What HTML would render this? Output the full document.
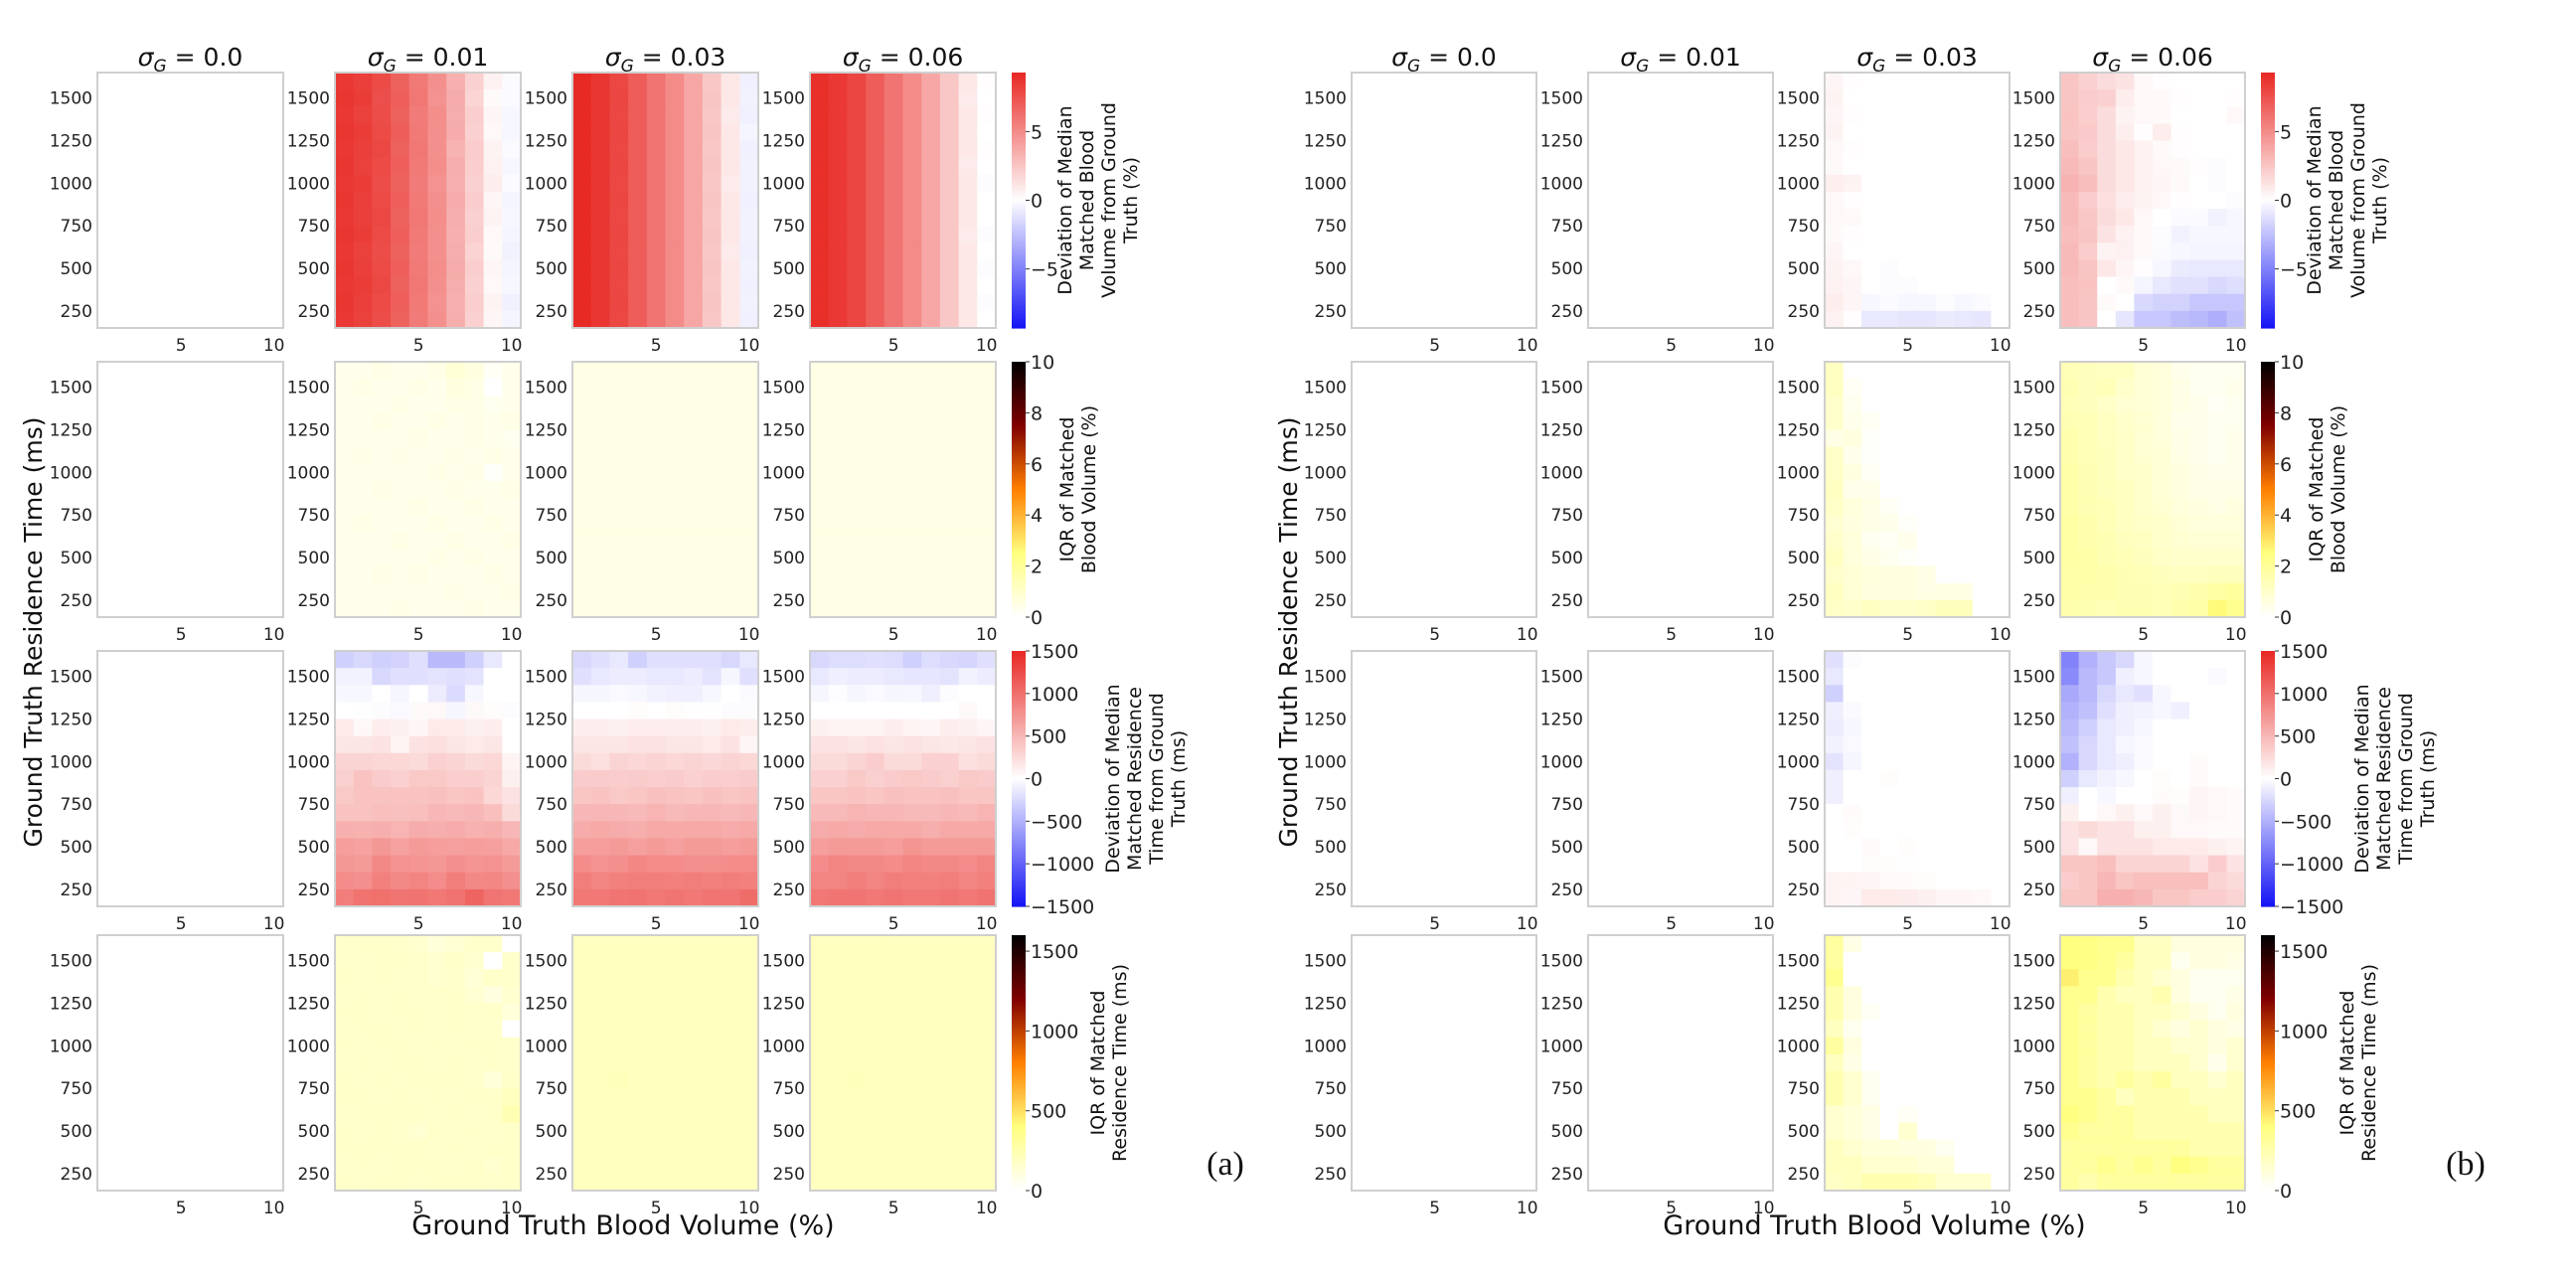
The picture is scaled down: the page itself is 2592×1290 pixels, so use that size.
<!DOCTYPE html>
<html><head><meta charset="utf-8"><title>Heatmaps</title>
<style>
html,body{margin:0;padding:0;background:#fff;}
svg{display:block;font-family:"DejaVu Sans","Liberation Sans",sans-serif;}
</style></head>
<body>
<svg id="fig" width="2592" height="1290" viewBox="0 0 2592 1290" xmlns="http://www.w3.org/2000/svg"></svg>
<script>
// ---------- axis categories ----------
const xCategories = [1,2,3,4,5,6,7,8,9,10];
const yCategories = [1600,1500,1400,1300,1200,1100,1000,900,800,700,600,500,400,300,200];
const xTickValues = [5,10];
const xTickLabels = ['5','10'];
const yTickValues = [250,500,750,1000,1250,1500];
const yTickLabels = ['250','500','750','1000','1250','1500'];
const sigmaLabels = ['0.0','0.01','0.03','0.06'];
const cbTicksBvDev = [-5,0,5];
const cbTicksBvIqr = [0,2,4,6,8,10];
const cbTicksRtDev = [-1500,-1000,-500,0,500,1000,1500];
const cbTicksRtIqr = [0,500,1000,1500];
const cbRangeBvDev = [-9.3,9.3];
const cbRangeBvIqr = [0,10];
const cbRangeRtDev = [-1500,1500];
const cbRangeRtIqr = [0,1600];

// ---------- data: rows top (1600 ms) to bottom (200 ms), cols BV 1..10 ----------
const zeroGrid = [
[0,0,0,0,0,0,0,0,0,0],[0,0,0,0,0,0,0,0,0,0],[0,0,0,0,0,0,0,0,0,0],[0,0,0,0,0,0,0,0,0,0],[0,0,0,0,0,0,0,0,0,0],
[0,0,0,0,0,0,0,0,0,0],[0,0,0,0,0,0,0,0,0,0],[0,0,0,0,0,0,0,0,0,0],[0,0,0,0,0,0,0,0,0,0],[0,0,0,0,0,0,0,0,0,0],
[0,0,0,0,0,0,0,0,0,0],[0,0,0,0,0,0,0,0,0,0],[0,0,0,0,0,0,0,0,0,0],[0,0,0,0,0,0,0,0,0,0],[0,0,0,0,0,0,0,0,0,0]];

const bvDevA001 = [
[8.6,8.3,7.8,6.8,5.8,4.8,3.4,2.0,0.6,-0.2],[8.7,8.4,7.6,6.9,5.9,4.7,3.6,1.8,0.2,-0.2],[8.6,8.2,7.7,6.8,5.7,4.9,3.5,2.1,0.4,-0.3],
[8.7,8.4,7.8,7.0,5.8,4.8,3.6,2.0,0.3,-0.3],[8.6,8.3,7.9,6.8,5.9,4.8,3.3,2.2,0.5,-0.2],[8.7,8.2,7.8,6.9,5.8,4.9,3.5,2.1,0.6,-0.3],
[8.6,8.4,7.7,6.8,5.7,4.7,3.4,2.0,0.8,-0.2],[8.7,8.3,7.8,6.9,5.8,4.8,3.6,2.2,0.4,-0.4],[8.6,8.3,7.9,6.8,5.9,4.9,3.5,2.0,0.5,-0.3],
[8.7,8.4,7.8,6.9,5.8,4.8,3.4,2.1,0.3,-0.4],[8.6,8.2,7.7,6.8,5.7,4.8,3.5,1.9,0.2,-0.5],[8.7,8.3,7.8,6.9,5.8,4.9,3.6,2.1,0.4,-0.4],
[8.6,8.4,7.9,6.8,5.9,4.8,3.5,2.0,0.3,-0.3],[8.7,8.3,7.8,6.9,5.8,4.7,3.4,2.1,0.5,-0.6],[8.6,8.2,7.7,6.8,5.7,4.8,3.5,2.0,0.4,-0.4]];
const bvDevA003 = [
[9.2,8.7,7.9,7.0,6.0,5.0,3.8,2.4,1.0,-0.6],[9.2,8.7,8.0,7.0,6.0,5.0,3.8,2.5,1.0,-0.5],[9.2,8.7,7.9,7.0,6.0,5.0,3.8,2.4,0.9,-0.6],
[9.2,8.7,8.0,7.0,6.0,5.0,3.8,2.5,1.0,-0.4],[9.2,8.7,7.9,7.0,6.0,5.0,3.8,2.4,1.0,-0.6],[9.2,8.7,8.0,7.0,6.0,5.0,3.8,2.5,1.0,-0.5],
[9.2,8.7,7.9,7.0,6.0,5.0,3.8,2.4,0.9,-0.5],[9.2,8.7,8.0,7.0,6.0,5.0,3.8,2.5,1.0,-0.6],[9.2,8.7,7.9,7.0,6.0,5.0,3.8,2.4,1.0,-0.5],
[9.2,8.7,8.0,7.0,6.0,5.0,3.8,2.5,1.0,-0.5],[9.2,8.7,7.9,7.0,6.0,5.0,3.8,2.4,0.9,-0.6],[9.2,8.7,8.0,7.0,6.0,5.0,3.8,2.5,1.0,-0.5],
[9.2,8.7,7.9,7.0,6.0,5.0,3.8,2.4,1.0,-0.6],[9.2,8.7,8.0,7.0,6.0,5.0,3.8,2.5,1.0,-0.5],[9.2,8.7,7.9,7.0,6.0,5.0,3.8,2.4,1.0,-0.6]];
const bvDevA006 = [
[9.0,8.6,8.0,7.0,6.0,5.0,3.8,2.4,1.0,0.1],[9.0,8.6,8.0,7.0,6.0,5.0,3.8,2.4,0.9,0.0],[9.0,8.6,8.0,7.0,6.0,5.0,3.8,2.4,1.0,0.1],
[9.0,8.6,8.0,7.0,6.0,5.0,3.8,2.4,1.0,0.0],[9.0,8.6,8.0,7.0,6.0,5.0,3.8,2.4,1.0,0.1],[9.0,8.6,8.0,7.0,6.0,5.0,3.8,2.4,0.9,0.0],
[9.0,8.6,8.0,7.0,6.0,5.0,3.8,2.4,1.0,-0.1],[9.0,8.6,8.0,7.0,6.0,5.0,3.8,2.4,1.0,0.0],[9.0,8.6,8.0,7.0,6.0,5.0,3.8,2.4,1.0,0.0],
[9.0,8.6,8.0,7.0,6.0,5.0,3.8,2.4,0.9,-0.1],[9.0,8.6,8.0,7.0,6.0,5.0,3.8,2.4,1.0,0.0],[9.0,8.6,8.0,7.0,6.0,5.0,3.8,2.4,1.0,-0.1],
[9.0,8.6,8.0,7.0,6.0,5.0,3.8,2.4,1.0,0.0],[9.0,8.6,8.0,7.0,6.0,5.0,3.8,2.4,1.0,-0.1],[9.0,8.6,8.0,7.0,6.0,5.0,3.8,2.4,1.0,0.0]];

const bvIqrA001 = [
[0.4,0.4,0.5,0.4,0.4,0.5,0.8,0.6,0.2,0.4],[0.4,0.5,0.4,0.4,0.5,0.4,0.6,0.5,0.0,0.4],[0.4,0.4,0.4,0.5,0.4,0.4,0.5,0.5,0.3,0.4],
[0.4,0.4,0.5,0.4,0.4,0.5,0.4,0.5,0.4,0.5],[0.4,0.4,0.4,0.4,0.5,0.4,0.4,0.5,0.4,0.3],[0.4,0.5,0.4,0.5,0.4,0.4,0.5,0.4,0.5,0.4],
[0.4,0.4,0.4,0.4,0.4,0.5,0.4,0.5,0.1,0.4],[0.4,0.4,0.5,0.4,0.4,0.4,0.5,0.4,0.4,0.5],[0.4,0.4,0.4,0.4,0.5,0.4,0.4,0.5,0.4,0.4],
[0.4,0.5,0.4,0.4,0.4,0.5,0.4,0.4,0.5,0.4],[0.4,0.4,0.4,0.5,0.4,0.4,0.5,0.4,0.4,0.5],[0.4,0.4,0.4,0.4,0.4,0.5,0.4,0.5,0.4,0.4],
[0.4,0.4,0.5,0.4,0.5,0.4,0.4,0.4,0.5,0.4],[0.4,0.4,0.4,0.4,0.4,0.4,0.5,0.4,0.4,0.5],[0.4,0.4,0.4,0.5,0.4,0.4,0.4,0.5,0.4,0.4]];
const bvIqrA003 = [
[0.5,0.5,0.5,0.5,0.5,0.5,0.5,0.5,0.5,0.5],[0.5,0.5,0.5,0.5,0.5,0.5,0.5,0.5,0.5,0.5],[0.5,0.5,0.5,0.5,0.5,0.5,0.5,0.5,0.5,0.5],
[0.5,0.5,0.5,0.5,0.5,0.5,0.5,0.5,0.5,0.5],[0.5,0.5,0.5,0.5,0.5,0.5,0.5,0.5,0.5,0.5],[0.5,0.5,0.5,0.5,0.5,0.5,0.5,0.5,0.5,0.5],
[0.5,0.5,0.5,0.5,0.5,0.5,0.5,0.5,0.5,0.5],[0.5,0.5,0.5,0.5,0.5,0.5,0.5,0.5,0.5,0.5],[0.5,0.5,0.5,0.5,0.5,0.5,0.5,0.5,0.5,0.5],
[0.5,0.5,0.5,0.5,0.5,0.5,0.5,0.5,0.5,0.5],[0.5,0.5,0.5,0.5,0.5,0.5,0.5,0.5,0.5,0.5],[0.5,0.5,0.5,0.5,0.5,0.5,0.5,0.5,0.5,0.5],
[0.5,0.5,0.5,0.5,0.5,0.5,0.5,0.5,0.5,0.5],[0.5,0.5,0.5,0.5,0.5,0.5,0.5,0.5,0.5,0.5],[0.5,0.5,0.5,0.5,0.5,0.5,0.5,0.5,0.5,0.5]];
const bvIqrA006 = bvIqrA003.map(r => r.slice());

const rtDevA001 = [
[-300,-250,-300,-280,-200,-450,-450,-300,-150,0],[-80,-80,-250,-200,-200,-180,-200,-180,0,0],[-50,-50,0,-60,0,-120,-230,-50,0,0],
[0,10,-20,-40,40,50,-60,40,20,-20],[150,50,120,100,60,150,150,100,120,0],[180,180,200,80,200,220,180,150,180,0],
[300,300,280,280,250,320,300,250,280,80],[330,420,360,320,380,380,340,340,300,100],[380,420,420,420,420,440,400,420,280,200],
[420,420,450,440,450,500,480,500,450,250],[550,540,560,520,580,560,580,540,560,500],[680,650,720,650,700,680,660,680,660,600],
[720,700,820,760,740,720,780,740,760,700],[800,780,880,820,860,800,900,820,840,780],[900,980,1000,960,980,940,980,1080,960,940]];
const rtDevA003 = [
[-250,-200,-150,-300,-200,-200,-200,-200,-250,-150],[-200,-150,-120,-120,-150,-150,-120,-180,-60,-200],[-60,-60,-40,-50,-80,-100,-100,-50,0,-30],
[0,0,0,20,0,20,10,10,-20,-20],[120,120,100,120,120,120,120,100,150,120],[180,180,180,200,200,180,180,150,200,60],
[250,220,300,270,300,280,300,270,300,280],[360,360,350,360,340,360,320,350,340,360],[400,420,380,400,440,420,400,440,400,420],
[500,500,500,480,520,480,500,500,480,500],[580,600,580,560,600,600,600,600,580,600],[680,680,700,660,700,660,700,700,680,700],
[800,760,780,840,800,800,780,780,800,800],[900,860,880,900,900,880,900,880,900,880],[940,940,960,980,940,960,940,960,960,1020]];
const rtDevA006 = [
[-250,-220,-220,-200,-220,-300,-220,-250,-270,-200],[-150,-100,-120,-120,-140,-160,-160,-180,-80,-120],[-60,-10,-60,-40,-60,-50,-100,-20,0,0],
[0,0,0,0,0,0,0,0,40,0],[100,80,80,80,120,80,60,120,100,60],[200,200,180,200,180,200,180,160,180,200],
[250,250,300,350,250,250,320,320,220,250],[320,320,380,330,360,380,360,330,380,360],[400,400,420,400,440,420,420,440,400,400],
[480,480,520,500,500,480,480,500,480,520],[580,600,580,600,600,600,560,600,600,600],[680,700,700,700,680,740,700,700,700,700],
[800,850,820,820,800,860,820,820,800,850],[860,860,900,860,900,880,880,900,860,880],[940,960,960,940,960,940,940,960,940,980]];

const rtIqrA001 = [
[160,170,170,160,150,120,140,160,160,0],[160,160,170,170,160,150,170,150,0,160],[170,160,170,160,160,150,160,130,170,160],
[160,170,160,170,160,160,170,140,100,150],[170,170,160,170,170,160,170,160,170,120],[160,170,170,160,170,160,170,160,160,0],
[170,160,170,170,160,170,160,170,170,160],[160,170,160,170,170,160,170,160,170,160],[170,160,170,160,170,170,170,160,120,170],
[170,170,160,170,160,170,160,170,170,200],[160,170,170,170,170,160,170,160,170,240],[170,160,170,160,140,170,160,170,160,170],
[170,170,170,170,170,160,170,160,170,170],[160,170,160,170,170,170,160,170,150,170],[170,160,170,170,160,170,170,170,160,170]];
const rtIqrA003 = [
[200,200,200,200,200,200,200,200,200,200],[200,200,200,200,200,200,200,200,200,200],[200,200,200,200,200,200,200,200,200,200],
[200,200,200,200,200,200,200,200,200,200],[200,200,200,200,200,200,200,200,200,200],[200,200,200,200,200,200,200,200,200,200],
[200,200,200,200,200,200,200,200,200,200],[200,200,200,200,200,200,200,200,200,200],[200,200,210,200,200,200,200,200,200,200],
[200,200,200,200,200,200,200,200,200,200],[200,200,200,200,200,200,200,200,200,200],[200,200,200,200,200,200,200,200,200,200],
[200,200,200,200,200,200,200,200,200,200],[200,200,200,200,200,200,200,200,200,200],[200,200,200,200,200,200,200,200,200,200]];
const rtIqrA006 = rtIqrA003.map(r => r.slice());

const bvDevB003 = [
[0.4,0.1,0,0,0,0,0,0,0,0],[0.5,0,0,0,0,0,0,0,0,0],[0.4,0.1,0,0,0,0,0,0,0,0],[0.5,0,0,0,0,0,0,0,0,0],[0.3,0.1,0,0,0,0,0,0,0,0],
[0.2,0,0,0,0,0,0,0,0,0],[0.7,0.5,0,0,0,0,0,0,0,0],[0.3,0.1,0,0,0,0,0,0,0,0],[0.3,0.2,0,0,0,0,0,0,0,0],[0.2,0.1,0,0,0,0,0,0,0,0],
[0.4,0,0,0,0,0,0,0,0,0],[0.5,0.3,0,-0.1,0,0,0,0,0,0],[0.6,0.4,0,-0.1,-0.1,0,0,0,0,0],[0.8,0.4,-0.3,-0.2,-0.3,-0.3,-0.1,-0.3,-0.2,0],
[0.6,0.1,-0.9,-0.9,-1.0,-1.0,-0.8,-0.9,-1.0,0]];
const bvDevB006 = [
[2.5,2.0,1.5,1.2,0.3,0.1,0,0,0,0],[2.5,2.2,2.0,0.8,0.3,0.2,0.1,0,0,0.1],[2.6,2.1,1.5,0.5,0.3,0.2,0,0,0,0.3],
[2.5,2.3,1.5,0.7,0.1,0.8,0.1,0,0,0],[2.8,2.2,1.5,1.0,0.6,0.2,0.1,0,0,0],[3.0,2.5,1.5,1.0,0.6,0.3,0.2,0.1,-0.1,0],
[3.3,2.8,1.5,1.0,0.6,0.4,0.2,0,-0.1,0],[3.0,2.2,1.4,0.8,0.5,0.3,0.1,0,0,-0.1],[3.0,2.4,1.5,1.0,0.3,0,-0.2,-0.2,-0.5,-0.3],
[2.8,2.5,1.2,0.6,0.2,-0.1,-0.5,-0.3,-0.3,-0.3],[3.0,2.2,0.5,0.6,0.2,-0.2,-0.3,-0.4,-0.4,-0.4],[3.0,2.5,1.0,0.4,0.1,-0.3,-0.8,-0.9,-0.9,-0.9],
[2.8,2.6,0,0.2,-0.4,-0.9,-1.2,-1.2,-1.5,-1.3],[2.8,2.5,0.2,0,-1.5,-1.8,-1.8,-2.2,-2.2,-2.2],[2.8,2.5,0,-1.0,-2.2,-2.2,-2.6,-2.8,-3.2,-2.5]];

const bvIqrB003 = [
[1.2,0,0,0,0,0,0,0,0,0],[1.2,0.2,0,0,0,0,0,0,0,0],[1.0,0.3,0,0,0,0,0,0,0,0],[1.0,0.4,0.2,0,0,0,0,0,0,0],[0.5,0.6,0.1,0,0,0,0,0,0,0],
[1.1,0.4,0.1,0,0,0,0,0,0,0],[1.1,0.6,0.2,0,0,0,0,0,0,0],[1.2,0.4,0.4,0,0,0,0,0,0,0],[1.1,0.7,0.5,0.2,0,0,0,0,0,0],[0.9,0.6,0.5,0.4,0.1,0,0,0,0,0],
[1.0,0.7,0.3,0.2,0.4,0,0,0,0,0],[1.2,0.7,0.5,0.3,0.1,0,0,0,0,0],[1.0,0.8,0.7,0.6,0.6,0.5,0,0,0,0],[1.2,0.8,0.6,0.6,0.6,0.5,0.5,0.5,0,0],
[1.1,1.0,1.2,1.0,1.0,1.1,1.3,1.3,0,0]];
const bvIqrB006 = [
[1.4,1.3,1.2,1.2,0.8,0.7,0.4,0.3,0.3,0.3],[1.5,1.3,1.4,1.0,0.8,0.7,0.5,0.3,0.3,0.4],[1.4,1.3,1.1,0.9,0.8,0.7,0.5,0.4,0.2,0.3],
[1.5,1.4,1.2,1.0,0.9,0.7,0.4,0.4,0.3,0.3],[1.6,1.4,1.2,1.1,0.9,0.7,0.5,0.4,0.3,0.4],[1.6,1.4,1.3,1.1,0.9,0.8,0.5,0.4,0.3,0.4],
[1.7,1.5,1.3,1.1,1.0,0.8,0.6,0.5,0.4,0.4],[1.7,1.5,1.3,1.2,1.0,0.8,0.6,0.5,0.5,0.5],[1.7,1.5,1.4,1.2,1.0,0.9,0.7,0.6,0.5,0.6],
[1.8,1.6,1.4,1.2,1.1,1.0,0.8,0.7,0.7,0.7],[1.8,1.6,1.5,1.3,1.2,1.0,0.9,0.8,0.8,0.8],[1.8,1.7,1.5,1.4,1.3,1.1,1.0,1.0,1.0,1.0],
[1.7,1.7,1.6,1.5,1.4,1.3,1.2,1.2,1.3,1.3],[1.7,1.6,1.6,1.5,1.5,1.4,1.5,1.6,1.8,1.9],[1.6,1.5,1.4,1.5,1.5,1.4,1.6,1.7,2.6,2.2]];

const rtDevB003 = [
[-200,-20,0,0,0,0,0,0,0,0],[-150,0,0,0,0,0,0,0,0,0],[-300,0,0,0,0,0,0,0,0,0],[-100,-30,0,0,0,0,0,0,0,0],[-120,-50,0,0,0,0,0,0,0,0],
[-80,-40,0,0,0,0,0,0,0,0],[-180,-60,0,0,0,0,0,0,0,0],[-100,0,0,20,0,0,0,0,0,0],[-100,0,0,0,0,0,0,0,0,0],[0,30,0,0,0,0,0,0,0,0],
[0,20,0,0,0,0,0,0,0,0],[0,0,30,0,20,0,0,0,0,0],[0,0,20,20,10,0,0,0,0,0],[80,80,60,30,30,20,0,0,0,0],[80,60,150,150,130,100,60,60,50,0]];
const rtDevB006 = [
[-800,-500,-350,-250,-50,0,0,0,0,0],[-750,-450,-350,-100,-50,0,0,0,-30,0],[-550,-450,-250,-150,-200,-50,0,0,0,0],
[-500,-400,-200,-100,-80,-50,-100,0,0,0],[-450,-300,-150,-100,-50,0,0,0,0,0],[-400,-250,-150,-50,-30,0,0,0,0,0],
[-500,-250,-150,-100,-30,0,0,30,0,0],[-300,-150,-80,-50,0,20,0,30,0,0],[-100,0,-50,0,0,30,20,60,50,30],
[100,0,50,100,50,100,40,60,50,30],[200,250,200,200,100,100,50,50,30,30],[200,50,200,200,200,150,150,150,100,80],
[400,400,450,300,300,300,300,200,350,200],[350,400,500,400,450,450,450,450,300,250],[400,400,550,550,500,400,400,350,350,300]];

const rtIqrB003 = [
[300,80,0,0,0,0,0,0,0,0],[300,0,0,0,0,0,0,0,0,0],[350,0,0,0,0,0,0,0,0,0],[250,100,0,0,0,0,0,0,0,0],[250,100,30,0,0,0,0,0,0,0],
[200,50,0,0,0,0,0,0,0,0],[300,100,0,0,0,0,0,0,0,0],[200,80,0,0,0,0,0,0,0,0],[250,150,50,0,0,0,0,0,0,0],[250,150,50,0,0,0,0,0,0,0],
[150,120,80,0,30,0,0,0,0,0],[150,120,80,0,150,0,0,0,0,0],[200,150,120,120,100,100,50,0,0,0],[200,200,150,150,150,120,120,0,0,0],
[180,200,250,250,250,220,150,150,150,0]];
const rtIqrB006 = [
[400,380,350,350,200,200,100,100,100,100],[400,380,350,300,200,200,50,100,100,80],[450,350,350,250,200,150,100,50,50,50],
[350,350,250,200,200,250,100,50,50,80],[350,300,250,250,200,200,150,100,50,100],[350,300,250,250,200,150,100,150,100,80],
[350,300,250,250,200,200,150,150,100,150],[350,300,250,250,200,200,200,150,60,150],[350,300,250,300,250,300,200,200,150,200],
[350,350,300,200,250,250,250,200,200,200],[400,350,300,300,250,250,250,250,200,200],[350,300,300,300,250,250,250,250,250,250],
[300,300,300,300,300,300,300,250,250,250],[300,300,350,300,350,300,400,350,300,300],[300,250,300,300,300,300,300,300,300,300]];

const gridsA = [[zeroGrid,bvDevA001,bvDevA003,bvDevA006],[zeroGrid,bvIqrA001,bvIqrA003,bvIqrA006],[zeroGrid,rtDevA001,rtDevA003,rtDevA006],[zeroGrid,rtIqrA001,rtIqrA003,rtIqrA006]];
const gridsB = [[zeroGrid,zeroGrid,bvDevB003,bvDevB006],[zeroGrid,zeroGrid,bvIqrB003,bvIqrB006],[zeroGrid,zeroGrid,rtDevB003,rtDevB006],[zeroGrid,zeroGrid,rtIqrB003,rtIqrB006]];

// ---------- drawing ----------
const NS = 'http://www.w3.org/2000/svg';
const svg = document.getElementById('fig');
function mk(tag, attrs, parent){ const e = document.createElementNS(NS, tag); for (const k in attrs) e.setAttribute(k, attrs[k]); (parent||svg).appendChild(e); return e; }
function clamp(v){ return Math.max(0, Math.min(1, v)); }
function bwr(v, lo, hi){
  const f = clamp(Math.abs(v) / hi);
  if (v >= 0) return `rgb(${Math.round(255-(255-232)*f)},${Math.round(255-(255-40)*f)},${Math.round(255-(255-35)*f)})`;
  return `rgb(${Math.round(255-(255-20)*f)},${Math.round(255-(255-20)*f)},${Math.round(255-(255-245)*f)})`;
}
function afmhotR(v, lo, hi){
  const x = 1 - clamp((v - lo) / (hi - lo));
  return `rgb(${Math.round(255*clamp(2*x))},${Math.round(255*clamp(2*x-0.5))},${Math.round(255*clamp(2*x-1))})`;
}
const rowSpecs = [
  {cmap:bwr, range:cbRangeBvDev, ticks:cbTicksBvDev, label:['Deviation of Median','Matched Blood','Volume from Ground','Truth (%)'], lblDx:86, name:'bv-deviation'},
  {cmap:afmhotR, range:cbRangeBvIqr, ticks:cbTicksBvIqr, label:['IQR of Matched','Blood Volume (%)'], lblDx:66, name:'bv-iqr'},
  {cmap:bwr, range:cbRangeRtDev, ticks:cbTicksRtDev, label:['Deviation of Median','Matched Residence','Time from Ground','Truth (ms)'], lblDx:134, name:'rt-deviation'},
  {cmap:afmhotR, range:cbRangeRtIqr, ticks:cbTicksRtIqr, label:['IQR of Matched','Residence Time (ms)'], lblDx:97, name:'rt-iqr'}
];
const rowTops = [73, 364, 655, 941];
const rowH = 257;
const yMin = 150, yMax = 1650, xMin = 0.5, xMax = 10.5;

function drawFigure(prefix, colXs, panelW, cbX, grids, xlabelX, ylabelX, tagX, tag){
  const g = mk('g', {});
  
  
  rowSpecs.forEach((spec, ri) => {
    const top = rowTops[ri];
    const ys = v => top + (yMax - v) / (yMax - yMin) * rowH;
    colXs.forEach((x0, ci) => {
      const xs = v => x0 + (v - xMin) / (xMax - xMin) * panelW;
      const pg = mk('g', {}, g);
      
      
      const grid = grids[ri][ci];
      yCategories.forEach((yc, r) => {
        xCategories.forEach((xc, c) => {
          const x1 = xs(xc - 0.5), x2 = xs(xc + 0.5), y1 = ys(yc + 50), y2 = ys(yc - 50);
          const cell = mk('rect', {x:x1, y:y1, width:x2-x1+0.6, height:y2-y1+0.6, fill:spec.cmap(grid[r][c], spec.range[0], spec.range[1])}, pg);
          
          
        });
      });
      const fr = mk('rect', {x:x0, y:top, width:panelW, height:rowH, fill:'none', stroke:'#cfcfcf', 'stroke-width':2}, pg);
      
      
      yTickValues.forEach((tv, i) => {
        const t = mk('text', {x:x0-5, y:ys(tv)+6, 'font-size':17, 'text-anchor':'end', fill:'#222'}, pg);
        t.textContent = yTickLabels[i];
        
        
      });
      xTickValues.forEach((tv, i) => {
        const t = mk('text', {x:xs(tv), y:top+rowH+23, 'font-size':17, 'text-anchor':'middle', fill:'#222'}, pg);
        t.textContent = xTickLabels[i];
        
        
      });
      if (ri === 0) {
        const t = mk('text', {x:x0+panelW/2, y:66, 'font-size':25, 'text-anchor':'middle', fill:'#111'}, pg);
        
        
        const s1 = mk('tspan', {'font-style':'italic'}, t); s1.textContent = 'σ';
        const s2 = mk('tspan', {'font-style':'italic', 'font-size':17, dy:6}, t); s2.textContent = 'G';
        const s3 = mk('tspan', {dy:-6}, t); s3.textContent = ' = ' + sigmaLabels[ci];
      }
    });
    // colorbar
    const cg = mk('g', {}, g);
    
    
    const cw = 14, N = 120;
    for (let k = 0; k < N; k++) {
      const v = spec.range[1] - (k + 0.5) / N * (spec.range[1] - spec.range[0]);
      mk('rect', {x:cbX, y:top + k*rowH/N, width:cw, height:rowH/N+0.6, fill:spec.cmap(v, spec.range[0], spec.range[1])}, cg);
    }
    const cys = v => top + (spec.range[1] - v) / (spec.range[1] - spec.range[0]) * rowH;
    spec.ticks.forEach(tv => {
      const y = cys(tv);
      mk('line', {x1:cbX+cw, x2:cbX+cw+4, y1:y, y2:y, stroke:'#333', 'stroke-width':1}, cg);
      const t = mk('text', {x:cbX+cw+5, y:y+7, 'font-size':19, fill:'#222'}, cg);
      t.textContent = String(tv).replace('-', '\u2212');
      
      
    });
    const lx = cbX + spec.lblDx, ly = top + rowH/2;
    const lbl = mk('text', {x:0, y:0, 'font-size':19, 'text-anchor':'middle', fill:'#111', transform:`translate(${lx},${ly}) rotate(-90)`}, cg);
    
    
    const n = spec.label.length;
    spec.label.forEach((line, i) => {
      const ts = mk('tspan', {x:0, y:(i - (n-1)/2) * 22 + 7}, lbl);
      ts.textContent = line;
    });
  });
  const xl = mk('text', {x:xlabelX, y:1242, 'font-size':27, 'text-anchor':'middle', fill:'#111'}, g);
  xl.textContent = 'Ground Truth Blood Volume (%)';
  
  
  const yl = mk('text', {x:0, y:0, 'font-size':25, 'text-anchor':'middle', fill:'#111', transform:`translate(${ylabelX},636) rotate(-90)`}, g);
  yl.textContent = 'Ground Truth Residence Time (ms)';
  
  
  const tg = mk('text', {x:tagX, y:1182, 'font-size':34, 'font-family':'"Liberation Serif", serif', 'text-anchor':'middle', fill:'#111'}, g);
  tg.textContent = tag;
  
  
}
drawFigure('a', [98,337,576,815], 187, 1018, gridsA, 627, 42, 1233, '(a)');
drawFigure('b', [1360,1598,1836,2073], 186, 2275, gridsB, 1886, 1305, 2481, '(b)');
</script>
</body></html>
